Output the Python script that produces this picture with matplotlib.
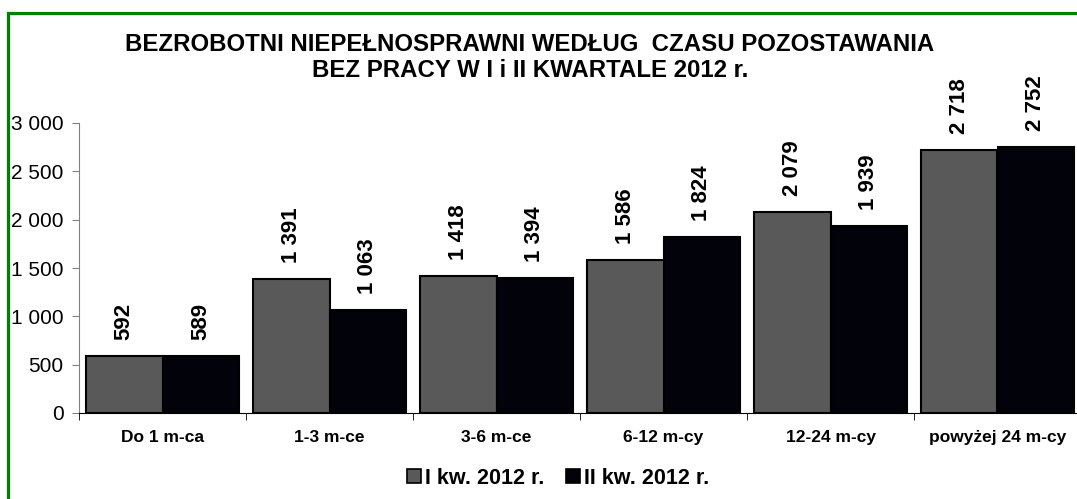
import matplotlib
matplotlib.use("Agg")
import matplotlib.pyplot as plt
import numpy as np
from matplotlib.patches import Rectangle, Patch
from matplotlib.ticker import FuncFormatter

plt.rcParams["font.family"] = ["Liberation Sans", "DejaVu Sans"]

categories = ["Do 1 m-ca", "1-3 m-ce", "3-6 m-ce", "6-12 m-cy", "12-24 m-cy", "powyżej 24 m-cy"]
q1 = [592, 1391, 1418, 1586, 2079, 2718]
q2 = [589, 1063, 1394, 1824, 1939, 2752]
series_names = ["I kw. 2012 r.", "II kw. 2012 r."]
colors = ["#595959", "#02020a"]
title = "BEZROBOTNI NIEPEŁNOSPRAWNI WEDŁUG  CZASU POZOSTAWANIA\nBEZ PRACY W I i II KWARTALE 2012 r."


def spaced(v):
    return f"{int(v):,}".replace(",", " ")


fig = plt.figure(figsize=(10.77, 4.99), dpi=100)
ax = fig.add_axes([79 / 1077, 86 / 499, 1002 / 1077, 290 / 499])

x = np.arange(len(categories))
w = 0.46
for vals, off, col in ((q1, -w / 2, colors[0]), (q2, w / 2, colors[1])):
    bars = ax.bar(x + off, vals, w, color=col, edgecolor="black", linewidth=1.5)
    for b, v in zip(bars, vals):
        ax.annotate(spaced(v), (b.get_x() + b.get_width() / 2, v),
                    xytext=(0, 11.5), textcoords="offset points",
                    rotation=90, ha="center", va="bottom",
                    fontsize=16, fontweight="bold")

ax.set_xlim(-0.5, len(categories) - 0.5)
ax.set_ylim(0, 3000)
ax.set_yticks(range(0, 3001, 500))
ax.yaxis.set_major_formatter(FuncFormatter(lambda v, p: spaced(v)))
ax.tick_params(axis="y", labelsize=15, length=5, color="#808080", pad=6)
ax.set_xticks(x)
ax.set_xticklabels(categories, fontsize=12.5, fontweight="bold")
ax.set_xticks(np.arange(-0.5, len(categories), 1), minor=True)
ax.tick_params(axis="x", which="major", length=0, pad=12)
ax.tick_params(axis="x", which="minor", length=5, color="black")
for s in ("top", "right"):
    ax.spines[s].set_visible(False)
ax.spines["left"].set_color("#808080")
ax.spines["bottom"].set_color("black")

fig.text(0.492, 0.891 - 0.006, title, ha="center", va="center", fontsize=17.3,
         fontweight="bold", linespacing=1.2)

handles = [Patch(facecolor=c, edgecolor="black", linewidth=1.2) for c in colors]
fig.legend(handles, series_names, loc="center", bbox_to_anchor=(0.518, 0.042),
           ncol=2, frameon=False, prop={"size": 15.5, "weight": "bold"},
           handlelength=0.65, handleheight=0.65, handletextpad=0.2, columnspacing=1.0)

fig.patches.append(Rectangle((7.5 / 1077, -0.1), 1.2, 1 - 13.5 / 499 + 0.1,
                             transform=fig.transFigure, fill=False,
                             edgecolor="#008000", linewidth=2.3))

fig.savefig("out.png", dpi=100)
